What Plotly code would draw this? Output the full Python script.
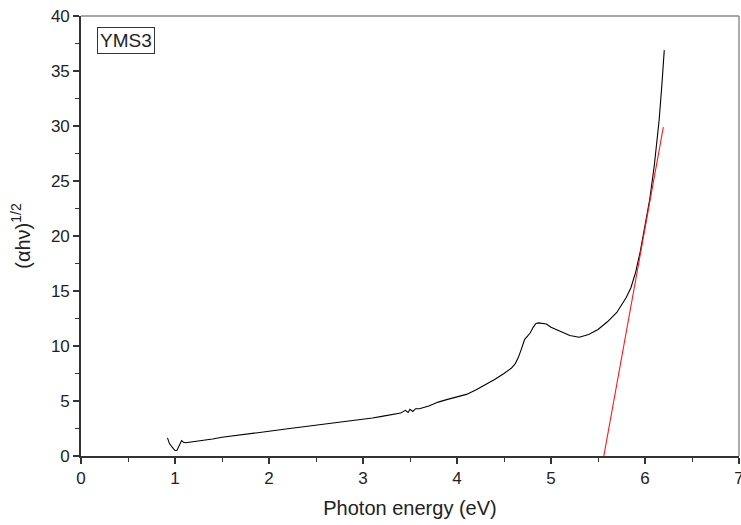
import plotly.graph_objects as go

# Measured curve (photon energy in eV, (alpha h nu)^1/2)
energy = [0.92, 0.94, 0.97, 1.0, 1.02, 1.05, 1.07, 1.09, 1.11, 1.15, 1.2, 1.265, 1.3, 1.4,
          1.5, 1.6, 1.8, 2.0, 2.2, 2.4, 2.6, 2.8, 3.0, 3.1, 3.2, 3.3, 3.4, 3.45, 3.48,
          3.5, 3.53, 3.56, 3.6, 3.7, 3.8, 3.9, 4.0, 4.1, 4.2, 4.3, 4.4, 4.5, 4.58, 4.62,
          4.65, 4.68, 4.70, 4.72, 4.75, 4.78, 4.81, 4.84, 4.87, 4.92, 4.95, 5.0, 5.05, 5.1,
          5.2, 5.3, 5.4, 5.5, 5.6, 5.7, 5.8, 5.85, 5.9, 5.95, 6.0, 6.05, 6.1, 6.15, 6.18, 6.205]
value = [1.65, 1.15, 0.8, 0.5, 0.5, 1.0, 1.4, 1.25, 1.2, 1.25, 1.3, 1.4, 1.4, 1.55,
         1.7, 1.8, 2.0, 2.25, 2.48, 2.7, 2.9, 3.1, 3.3, 3.45, 3.6, 3.75, 3.9, 4.15, 3.95,
         4.25, 4.05, 4.3, 4.3, 4.55, 4.9, 5.15, 5.35, 5.6, 6.0, 6.45, 6.95, 7.5, 8.0, 8.4,
         8.9, 9.6, 10.2, 10.6, 10.9, 11.2, 11.7, 12.05, 12.1, 12.05, 12.0, 11.7, 11.5, 11.3,
         10.95, 10.8, 11.05, 11.5, 12.2, 13.05, 14.4, 15.3, 16.7, 18.6, 20.9, 23.3, 26.5, 30.5, 33.8, 36.9]

# Linear fit (Tauc extrapolation) endpoints
fit_energy = [5.545, 6.195]
fit_value = [-0.8, 29.9]

x_ticks = [0, 1, 2, 3, 4, 5, 6, 7]
y_ticks = [0, 5, 10, 15, 20, 25, 30, 35, 40]

font = "Liberation Sans, Arial, Helvetica, sans-serif"
txt = "#222222"

fig = go.Figure()
fig.add_trace(go.Scatter(x=energy, y=value, mode="lines",
                         line=dict(color="black", width=1.1), showlegend=False,
                         cliponaxis=False))
fig.add_trace(go.Scatter(x=fit_energy, y=fit_value, mode="lines",
                         line=dict(color="#ff1a1a", width=1.1), showlegend=False,
                         cliponaxis=False))

axis_common = dict(
    showgrid=False, zeroline=False, showline=True, linecolor="#333333", linewidth=1.6,
    ticks="outside", ticklen=6, tickwidth=1.6, tickcolor="#333333",
    tickfont=dict(family=font, size=17, color=txt), automargin=False,
)

fig.update_xaxes(range=[0, 7], tickvals=x_ticks, ticktext=[str(v) for v in x_ticks],
                 ticklabeloverflow="allow",
                 minor=dict(dtick=0.5, ticks="outside", ticklen=4, tickwidth=1.4, tickcolor="#333333"),
                 title=dict(text="Photon energy (eV)", font=dict(family=font, size=20, color=txt),
                            standoff=14),
                 **axis_common)
fig.update_yaxes(range=[0, 40], tickvals=y_ticks, ticktext=[str(v) for v in y_ticks],
                 minor=dict(dtick=2.5, ticks="outside", ticklen=4, tickwidth=1.4, tickcolor="#333333"),
                 title=dict(text="(αhν)<sup>1/2</sup>", font=dict(family=font, size=20, color=txt),
                            standoff=15),
                 **axis_common)

# top and right frame
fig.add_shape(type="line", xref="paper", yref="paper", x0=0, x1=1, y0=1, y1=1,
              line=dict(color="#888888", width=1.4))
fig.add_shape(type="line", xref="paper", yref="paper", x0=1, x1=1, y0=0, y1=1,
              line=dict(color="#888888", width=1.4))

fig.add_annotation(xref="paper", yref="paper", x=0.024, y=0.975, xanchor="left", yanchor="top",
                   text="YMS3", showarrow=False, font=dict(family=font, size=19, color=txt),
                   bordercolor="#333333", borderwidth=1, borderpad=2, bgcolor="white")

fig.update_layout(width=741, height=525, plot_bgcolor="white", paper_bgcolor="white",
                  margin=dict(l=81, r=2, t=16, b=69))

fig.write_html("out.html")
